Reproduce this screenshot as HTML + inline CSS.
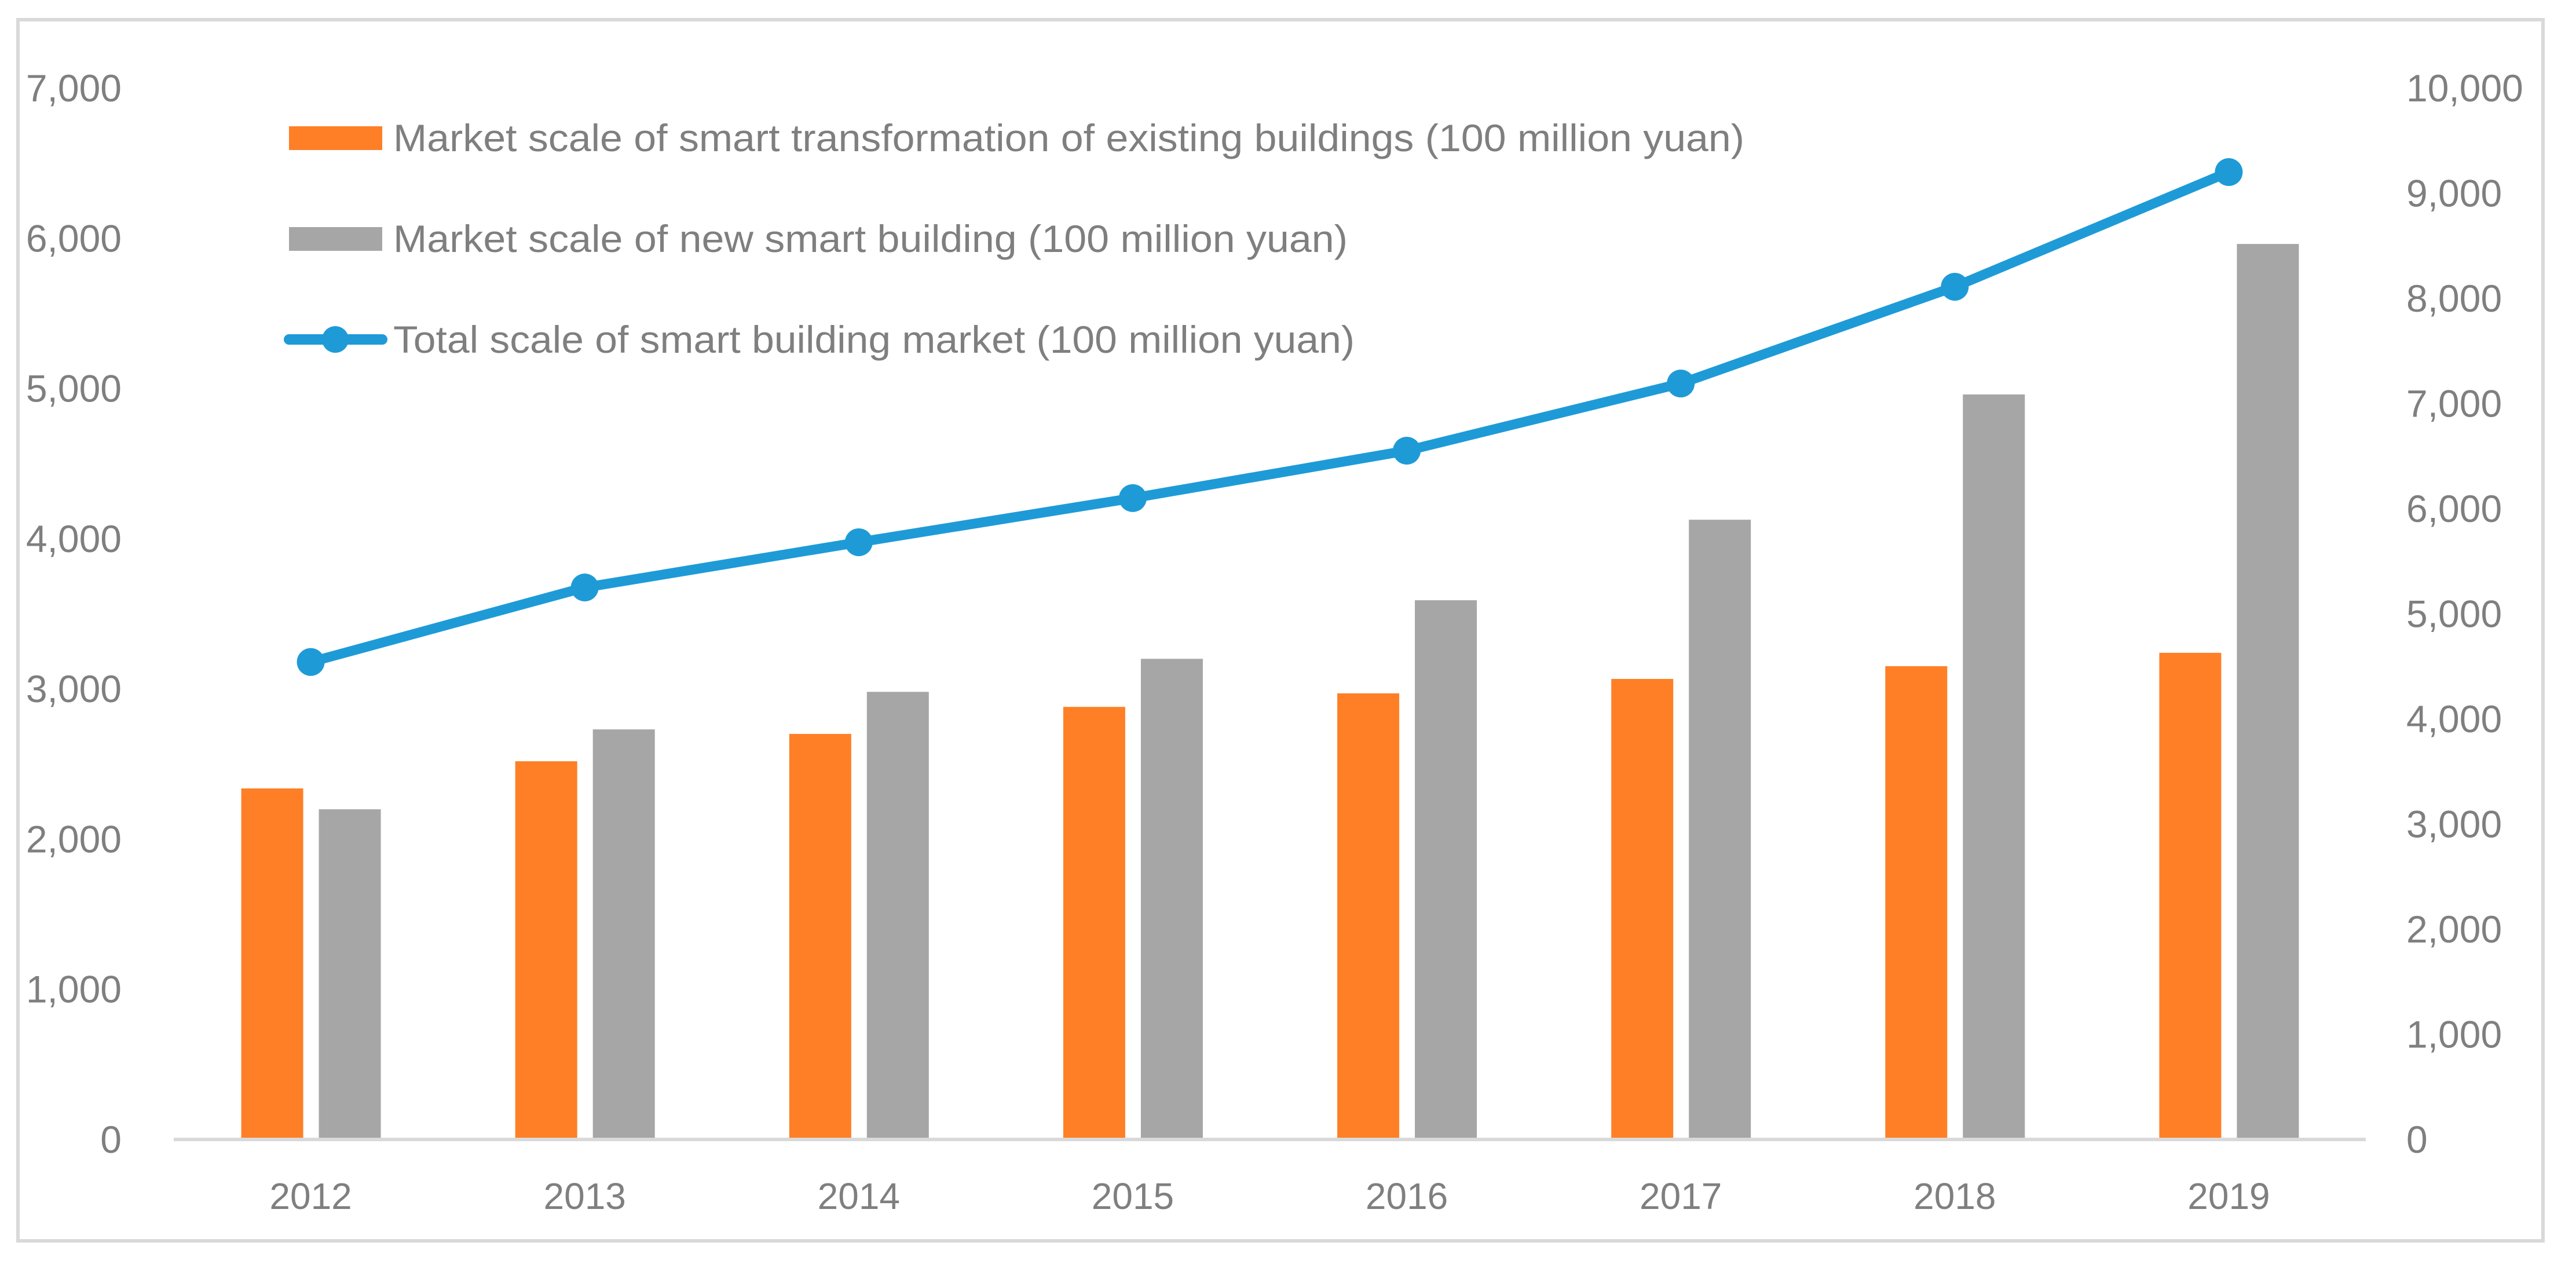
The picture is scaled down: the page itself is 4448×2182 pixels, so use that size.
<!DOCTYPE html>
<html><head><meta charset="utf-8"><style>
html,body{margin:0;padding:0;background:#fff;}
svg{display:block;font-family:"Liberation Sans",sans-serif;}
</style></head><body>
<svg id="chart" width="4448" height="2182" viewBox="0 0 4448 2182" xmlns="http://www.w3.org/2000/svg">
<rect x="31" y="34" width="4360" height="2108" fill="#fff" stroke="#D9D9D9" stroke-width="6"/>
<g id="bars"></g>
<line x1="300" y1="1967" x2="4085" y2="1967" stroke="#D9D9D9" stroke-width="6"/>
<g id="ticks"></g>
<g id="line"></g>
<g>
 <g>
  <rect x="499" y="218" width="161" height="41" fill="#FF7F27"/>
  <text x="679" y="261" font-size="66" fill="#7F7F7F" textLength="2333" lengthAdjust="spacingAndGlyphs">Market scale of smart transformation of existing buildings (100 million yuan)</text>
 </g>
 <g>
  <rect x="499" y="392" width="161" height="41" fill="#A6A6A6"/>
  <text x="679" y="435" font-size="66" fill="#7F7F7F" textLength="1648" lengthAdjust="spacingAndGlyphs">Market scale of new smart building (100 million yuan)</text>
 </g>
 <g>
  <line x1="499" y1="586" x2="660" y2="586" stroke="#1E9BD7" stroke-width="18" stroke-linecap="round"/>
  <circle cx="579" cy="586" r="23" fill="#1E9BD7"/>
  <text x="679" y="609" font-size="66" fill="#7F7F7F" textLength="1660" lengthAdjust="spacingAndGlyphs">Total scale of smart building market (100 million yuan)</text>
 </g>
</g>
</svg>
<script>
const categories = ["2012","2013","2014","2015","2016","2017","2018","2019"];
const existingValues = [2337, 2518, 2700, 2880, 2970, 3066, 3151, 3240];
const newValues = [2198, 2730, 2980, 3200, 3590, 4126, 4960, 5962];
const totalValues = [4541, 5250, 5680, 6100, 6551, 7190, 8110, 9201];
const leftTicks = [0,1000,2000,3000,4000,5000,6000,7000];
const rightTicks = [0,1000,2000,3000,4000,5000,6000,7000,8000,9000,10000];

const NS = "http://www.w3.org/2000/svg";
const X0 = 300, X1 = 4085, YB = 1967, YT = 152;
const yL = v => YB - (v / 7000) * (YB - YT);
const yR = v => YB - (v / 10000) * (YB - YT);
const band = (X1 - X0) / categories.length;
const xC = i => X0 + band * (i + 0.5);
function mk(tag, attrs, parent){const e=document.createElementNS(NS,tag);for(const k in attrs)e.setAttribute(k,attrs[k]);parent.appendChild(e);return e;}
const fmt = v => v.toLocaleString("en-US");

const bars = document.getElementById("bars");
categories.forEach((c,i)=>{
  const cx = xC(i);
  const a = mk("rect",{x:cx-120,y:yL(existingValues[i]),width:107,height:YB-yL(existingValues[i]),fill:"#FF7F27"},bars);
  
  
  const b = mk("rect",{x:cx+14,y:yL(newValues[i]),width:107,height:YB-yL(newValues[i]),fill:"#A6A6A6"},bars);
  
  
});

const ticks = document.getElementById("ticks");
leftTicks.forEach(v=>{
  const t = mk("text",{x:210,y:yL(v)+23,"font-size":66,fill:"#7F7F7F","text-anchor":"end"},ticks);
  t.textContent = fmt(v);
  
  
});
rightTicks.forEach(v=>{
  const t = mk("text",{x:4155,y:yR(v)+23,"font-size":66,fill:"#7F7F7F","text-anchor":"start"},ticks);
  t.textContent = fmt(v);
  
  
});
categories.forEach((c,i)=>{
  const t = mk("text",{x:xC(i),y:2087,"font-size":64,fill:"#7F7F7F","text-anchor":"middle"},ticks);
  t.textContent = c;
  
  
});

const lg = document.getElementById("line");
const pts = totalValues.map((v,i)=>xC(i)+","+yR(v)).join(" ");
const pl = mk("polyline",{points:pts,fill:"none",stroke:"#1E9BD7","stroke-width":17,"stroke-linejoin":"round"},lg);


totalValues.forEach((v,i)=>{
  const m = mk("circle",{cx:xC(i),cy:yR(v),r:24,fill:"#1E9BD7"},lg);
  
  
});
</script>
</body></html>
